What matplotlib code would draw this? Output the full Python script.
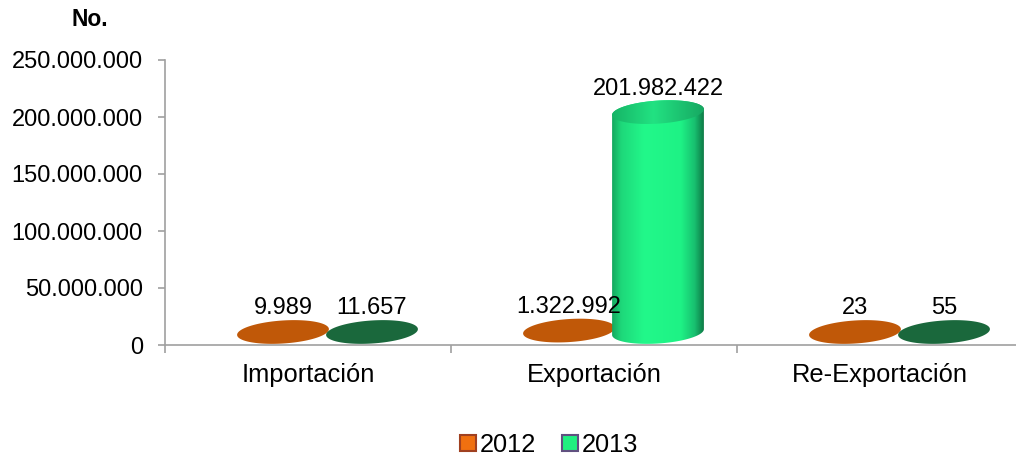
import numpy as np
import matplotlib
matplotlib.use('Agg')
import matplotlib.pyplot as plt
from matplotlib.patches import Polygon, Patch
from matplotlib.colors import LinearSegmentedColormap
from matplotlib.ticker import FuncFormatter, FixedLocator

plt.rcParams['font.family'] = ['Liberation Sans', 'DejaVu Sans']

categorias = ['Importación', 'Exportación', 'Re-Exportación']
anios = ['2012', '2013']
v2012 = [9989, 1322992, 23]
v2013 = [11657, 201982422, 55]

W, H = 1016, 455
fig = plt.figure(figsize=(W / 100, H / 100), dpi=100)
ax = fig.add_axes([165 / W, 110 / H, 858 / W, 285 / H])
ax.set_xlim(-0.5, 2.5)
ax.set_ylim(0, 250e6)

# pixeles por unidad de datos
px_x = 858 / 3
px_y = 285 / 250e6

A, B, ANG = 46, 11.5, 3.8    # semiejes de la elipse (px) e inclinacion
base = 13 / px_y             # el "suelo" 3D queda un poco sobre el eje
k = 0.955                    # acortamiento por perspectiva
desp = [-25 / px_x, 64 / px_x]

def elipse(cx, cy, t=None):
    if t is None:
        t = np.linspace(0, 2 * np.pi, 200)
    th = np.radians(ANG)
    dx = A * np.cos(t) * np.cos(th) - B * np.sin(t) * np.sin(th)
    dy = A * np.cos(t) * np.sin(th) + B * np.sin(t) * np.cos(th)
    return np.column_stack([cx + dx / px_x, cy + dy / px_y])

cmap_cuerpo = LinearSegmentedColormap.from_list('c', [
    (0, '#14A85E'), (0.1, '#1ED87A'), (0.35, '#22F88A'),
    (0.75, '#1EF285'), (0.9, '#18C070'), (1, '#0E7A46')])
cmap_tapa = LinearSegmentedColormap.from_list('t', [
    (0, '#16B466'), (0.45, '#22E282'), (1, '#17A862')])

col_tapa = {'2012': '#C05808', '2013': '#1A683C'}
grad = np.linspace(0, 1, 256).reshape(1, -1)

def cilindro(cx, v, serie, z):
    top = base + v * k
    alto_px = v * k * px_y
    if alto_px < 3:
        ax.add_patch(Polygon(elipse(cx, top), closed=True, fc=col_tapa[serie],
                             ec='none', zorder=z))
        return top
    t1 = np.linspace(np.pi, 2 * np.pi, 100)
    t2 = np.linspace(0, np.pi, 100)
    pts = np.vstack([elipse(cx, base, t1), elipse(cx, top, t2)])
    cuerpo = Polygon(pts, closed=True, fc='none', ec='none', zorder=z)
    ax.add_patch(cuerpo)
    ext = [cx - A / px_x, cx + A / px_x, base - 30 / px_y, top + 30 / px_y]
    im = ax.imshow(grad, cmap=cmap_cuerpo, extent=ext, aspect='auto',
                   origin='lower', zorder=z, interpolation='bilinear')
    im.set_clip_path(cuerpo)
    tapa = Polygon(elipse(cx, top), closed=True, fc='none', ec='none', zorder=z + 0.1)
    ax.add_patch(tapa)
    im2 = ax.imshow(grad, cmap=cmap_tapa, extent=ext, aspect='auto',
                    origin='lower', zorder=z + 0.1, interpolation='bilinear')
    im2.set_clip_path(tapa)
    return top

def fmt(v):
    return f'{int(v):,}'.replace(',', '.')

for j, (serie, vals) in enumerate(zip(anios, [v2012, v2013])):
    for i, v in enumerate(vals):
        cx = i + desp[j]
        top = cilindro(cx, v, serie, 3 + j)
        ax.annotate(fmt(v), (cx, top), xytext=(0, (B + 12) * 0.72),
                    textcoords='offset points', ha='center', va='center',
                    fontsize=17, zorder=10)

ax.set_xlim(-0.5, 2.5)
ax.set_ylim(0, 250e6)

for s in ['top', 'right']:
    ax.spines[s].set_visible(False)
for s in ['left', 'bottom']:
    ax.spines[s].set_color('#A0A0A0')
    ax.spines[s].set_linewidth(1.2)

ax.set_yticks(np.arange(0, 250e6 + 1, 50e6))
ax.yaxis.set_major_formatter(FuncFormatter(lambda v, p: fmt(v)))
ax.tick_params(axis='y', length=5, width=1.2, color='#A0A0A0', pad=11, labelsize=17)

ax.set_xticks(range(3))
ax.set_xticklabels(categorias)
ax.xaxis.set_minor_locator(FixedLocator([-0.5, 0.5, 1.5, 2.5]))
ax.tick_params(axis='x', which='major', length=0, pad=13, labelsize=18.4)
ax.tick_params(axis='x', which='minor', length=6, width=1.2, color='#A0A0A0')

fig.text(90 / W, 1 - 20 / H, 'No.', fontsize=16.5, fontweight='bold', ha='center', va='center')

handles = [Patch(fc='#F07010', ec='#A04020', lw=1.5, label='2012'),
           Patch(fc='#20F080', ec='#605080', lw=1.5, label='2013')]
fig.legend(handles=handles, loc='center', bbox_to_anchor=(549 / W, 1 - 445 / H), ncol=2,
           frameon=False, fontsize=18.3, handlelength=0.6, handleheight=0.6,
           handletextpad=0.15, columnspacing=1.05, borderpad=0)

fig.savefig('out.png', dpi=100)
